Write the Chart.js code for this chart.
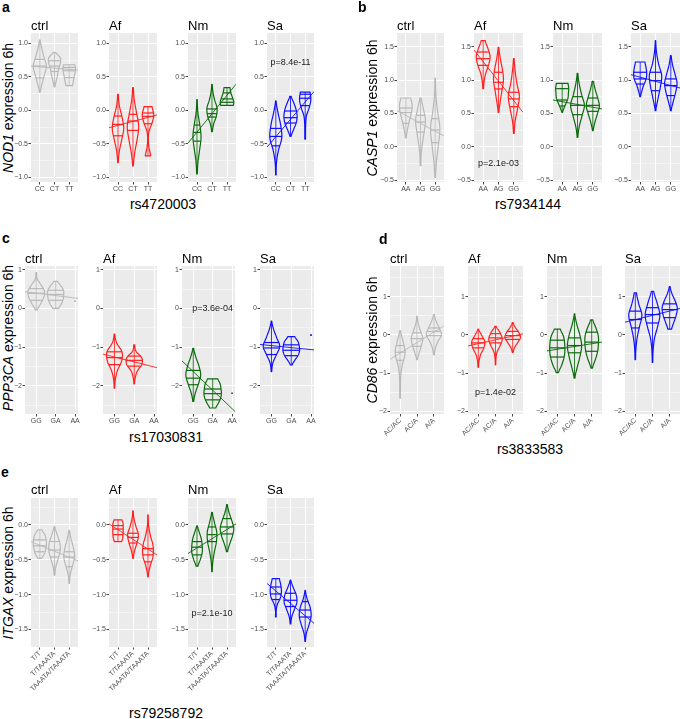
<!DOCTYPE html>
<html>
<head>
<meta charset="utf-8">
<script src="https://cdn.jsdelivr.net/npm/chart.js@4.4.1/dist/chart.umd.min.js"></script>
<style>
  body { margin: 0; width: 680px; height: 719px; position: relative; overflow: hidden; background: #fff;
         font-family: "Liberation Sans", Arial, Helvetica, sans-serif; }
  canvas { position: absolute; }
  .txt { position: absolute; white-space: nowrap; line-height: 1; color: #000; }
</style>
</head>
<body>
<script>
// ── DATA ─────────────────────────────────────
const groups = ['ctrl', 'Af', 'Nm', 'Sa'];
const groupColors = ['#b8b8b8', '#ff1f1f', '#0a6a0a', '#0f0fff'];

// violin = [top, bottom, [q75, q50, q25], half-width profile top -> bottom (1 = widest)]
const genoA = ['CC', 'CT', 'TT'];
const violinsA = [
  [[1.05, 0.27, [0.76, 0.66, 0.485], [0.05, 0.3, 0.65, 1.0, 0.7, 0.35, 0.05]],
   [0.865, 0.35, [0.74, 0.66, 0.58], [0.2, 0.9, 0.85, 0.6, 0.45, 0.25, 0.05]],
   [0.68, 0.37, [0.64, 0.59, 0.49], [0.85, 0.95, 0.9, 0.8, 0.7, 0.6, 0.5]]],
  [[0.24, -0.78, [-0.085, -0.21, -0.38], [0.05, 0.2, 0.6, 0.85, 0.55, 0.2, 0.05]],
   [0.34, -0.83, [-0.06, -0.16, -0.3], [0.05, 0.2, 0.55, 0.85, 0.6, 0.25, 0.05]],
   [0.055, -0.68, [-0.04, -0.09, -0.2], [0.6, 0.85, 0.6, 0.15, 0.05, 0.15, 0.4]]],
  [[0.16, -0.95, [-0.22, -0.33, -0.46], [0.03, 0.12, 0.4, 0.6, 0.4, 0.15, 0.05]],
   [0.386, -0.32, [0.02, -0.05, -0.1], [0.03, 0.15, 0.4, 0.75, 0.65, 0.25, 0.05]],
   [0.34, 0.075, [0.26, 0.17, 0.12], [0.45, 0.5, 0.6, 0.75, 0.9, 1.0, 0.95]]],
  [[0.14, -0.965, [-0.27, -0.39, -0.53], [0.03, 0.35, 0.75, 0.9, 0.4, 0.1, 0.03]],
   [0.21, -0.39, [-0.01, -0.11, -0.19], [0.1, 0.5, 0.85, 1.0, 0.85, 0.45, 0.08]],
   [0.27, -0.43, [0.24, 0.18, 0.07], [0.75, 0.85, 0.6, 0.2, 0.08, 0.05, 0.05]]]
];
const fitA = [[0.66, 0.6], [-0.26, -0.07], [-0.49, 0.39], [-0.55, 0.28]];
const pA = [3, 0.72, 'p=8.4e-11'];
const rangeA = [-1.07, 1.154];

const genoB = ['AA', 'AG', 'GG'];
const violinsB = [
  [[0.73, 0.13, [0.58, 0.51, 0.35], [0.75, 0.95, 0.9, 0.65, 0.4, 0.2, 0.05]],
   [0.73, -0.285, [0.47, 0.37, 0.22], [0.1, 0.45, 0.75, 0.55, 0.3, 0.1, 0.05]],
   [1.03, -0.46, [0.42, 0.25, 0.06], [0.03, 0.1, 0.35, 0.7, 0.5, 0.2, 0.05]]],
  [[1.59, 0.87, [1.42, 1.32, 1.22], [0.3, 0.7, 1.0, 0.8, 0.4, 0.15, 0.05]],
   [1.49, 0.515, [1.116, 0.966, 0.866], [0.05, 0.25, 0.55, 0.72, 0.5, 0.25, 0.05]],
   [1.32, 0.2, [0.816, 0.716, 0.6], [0.05, 0.2, 0.45, 0.8, 0.55, 0.2, 0.05]]],
  [[0.95, 0.515, [0.87, 0.7, 0.61], [0.85, 0.95, 0.9, 0.85, 0.6, 0.3, 0.05]],
   [1.1, 0.14, [0.75, 0.62, 0.48], [0.05, 0.25, 0.6, 1.0, 0.65, 0.25, 0.05]],
   [0.98, 0.24, [0.73, 0.62, 0.53], [0.1, 0.35, 0.7, 0.95, 0.65, 0.3, 0.05]]],
  [[1.27, 0.75, [1.116, 1.016, 0.94], [0.7, 0.85, 0.95, 0.85, 0.5, 0.25, 0.05]],
   [1.59, 0.54, [1.116, 0.99, 0.84], [0.03, 0.15, 0.45, 0.9, 0.7, 0.35, 0.05]],
   [1.366, 0.54, [1.016, 0.916, 0.766], [0.05, 0.25, 0.6, 0.9, 0.7, 0.35, 0.05]]]
];
const fitB = [[0.54, 0.16], [1.45, 0.515], [0.7, 0.566], [1.08, 0.88]];
const pB = [1, -0.26, 'p=2.1e-03'];
const rangeB = [-0.53, 1.705];

const genoC = ['GG', 'GA', 'AA'];
const violinsC = [
  [[0.925, -0.04, [0.51, 0.39, 0.21], [0.03, 0.1, 0.55, 0.95, 0.85, 0.5, 0.1]],
   [0.7, 0.0, [0.47, 0.36, 0.21], [0.2, 0.6, 0.9, 0.92, 0.85, 0.65, 0.35]], null],
  [[-0.66, -2.06, [-1.12, -1.27, -1.45], [0.03, 0.25, 0.85, 0.8, 0.35, 0.1, 0.03]],
   [-0.94, -1.95, [-1.23, -1.34, -1.49], [0.05, 0.2, 0.85, 0.85, 0.35, 0.12, 0.03]], null],
  [[-1.03, -2.4, [-1.6, -1.8, -1.97], [0.05, 0.3, 0.65, 0.85, 0.6, 0.25, 0.05]],
   [-1.82, -2.57, [-2.08, -2.2, -2.36], [0.6, 0.85, 0.95, 1.0, 0.9, 0.65, 0.35]], null],
  [[-0.33, -1.63, [-0.88, -1.02, -1.19], [0.03, 0.25, 0.6, 0.93, 0.55, 0.15, 0.03]],
   [-0.73, -1.46, [-0.94, -1.08, -1.22], [0.4, 0.75, 0.9, 0.93, 0.75, 0.4, 0.1]], null]
];
const fitC = [[0.43, 0.26], [-1.18, -1.53], [-1.355, -2.66], [-0.93, -1.07]];
const pC = [2, 0.0, 'p=3.6e-04'];
const dotsC = [[0, 3, 0.19], [2, 3, -2.19], [3, 3, -0.69]];   // [group, genotype, value]
const rangeC = [-2.725, 1.095];

const genoD = ['AC/AC', 'AC/A', 'A/A'];
const violinsD = [
  [[0.11, -1.66, [-0.28, -0.455, -0.665], [0.05, 0.4, 0.65, 0.3, 0.08, 0.04, 0.02]],
   [0.49, -0.65, [0.05, -0.1, -0.3], [0.03, 0.15, 0.45, 0.75, 0.6, 0.3, 0.05]],
   [0.53, -0.52, [0.18, 0.09, -0.02], [0.05, 0.3, 0.7, 1.0, 0.55, 0.2, 0.05]]],
  [[0.15, -0.85, [-0.1, -0.21, -0.34], [0.05, 0.45, 0.85, 0.7, 0.3, 0.1, 0.03]],
   [0.22, -0.785, [0.03, -0.08, -0.21], [0.1, 0.6, 0.87, 0.6, 0.2, 0.06, 0.03]],
   [0.32, -0.46, [0.09, -0.02, -0.12], [0.05, 0.35, 0.8, 1.0, 0.65, 0.25, 0.05]]],
  [[0.15, -0.99, [-0.14, -0.34, -0.58], [0.4, 0.8, 0.95, 0.98, 0.85, 0.55, 0.15]],
   [0.55, -1.13, [-0.08, -0.28, -0.47], [0.03, 0.3, 0.7, 0.92, 0.7, 0.35, 0.05]],
   [0.39, -0.87, [0.07, -0.19, -0.43], [0.15, 0.55, 0.85, 0.87, 0.75, 0.45, 0.1]]],
  [[1.1, -0.65, [0.62, 0.4, 0.18], [0.15, 0.45, 0.85, 0.55, 0.25, 0.08, 0.03]],
   [1.14, -0.72, [0.71, 0.53, 0.31], [0.15, 0.6, 0.95, 0.65, 0.25, 0.08, 0.03]],
   [1.26, 0.15, [0.81, 0.66, 0.45], [0.05, 0.3, 0.7, 0.98, 0.85, 0.55, 0.25]]]
];
const fitD = [[-0.64, 0.235], [-0.29, 0.026], [-0.42, -0.19], [0.33, 0.69]];
const pD = [1, -1.5, 'p=1.4e-02'];
const rangeD = [-2.07, 1.8];

const genoE = ['T/T', 'T/TAAATA', 'TAAATA/TAAATA'];
const violinsE = [
  [[-0.07, -0.48, [-0.215, -0.3, -0.385], [0.3, 0.75, 0.95, 1.0, 0.9, 0.7, 0.3]],
   [-0.024, -0.72, [-0.24, -0.36, -0.46], [0.05, 0.4, 0.8, 0.85, 0.55, 0.2, 0.05]],
   [-0.08, -0.84, [-0.385, -0.46, -0.6], [0.05, 0.3, 0.65, 0.82, 0.5, 0.15, 0.03]]],
  [[0.072, -0.24, [-0.01, -0.06, -0.14], [0.6, 0.75, 0.77, 0.77, 0.75, 0.7, 0.55]],
   [0.2, -0.48, [-0.12, -0.18, -0.26], [0.03, 0.15, 0.45, 0.8, 0.6, 0.25, 0.03]],
   [0.145, -0.745, [-0.34, -0.43, -0.53], [0.02, 0.08, 0.35, 0.75, 0.75, 0.3, 0.03]]],
  [[-0.014, -0.59, [-0.24, -0.32, -0.43], [0.05, 0.35, 0.65, 0.77, 0.77, 0.5, 0.15]],
   [0.18, -0.67, [-0.03, -0.14, -0.24], [0.05, 0.35, 0.7, 0.65, 0.35, 0.12, 0.03]],
   [0.29, -0.385, [0.09, -0.03, -0.13], [0.05, 0.3, 0.7, 1.0, 0.8, 0.4, 0.08]]],
  [[-0.77, -1.32, [-0.89, -0.99, -1.07], [0.55, 0.75, 0.85, 0.7, 0.25, 0.05, 0.05]],
   [-0.79, -1.42, [-0.98, -1.08, -1.17], [0.05, 0.4, 0.85, 0.97, 0.6, 0.2, 0.05]],
   [-0.94, -1.67, [-1.1, -1.22, -1.32], [0.03, 0.3, 0.75, 0.9, 0.6, 0.2, 0.03]]]
];
const fitE = [[-0.24, -0.515], [0.014, -0.43], [-0.41, 0.014], [-0.84, -1.41]];
const pE = [2, -1.27, 'p=2.1e-10'];
const rangeE = [-1.75, 0.385];

// ── LAYOUT ───────────────────────────────────
const rows = [
  { letter: 'a', letterAt: [2, 12], gene: 'NOD1', snp: 'rs4720003', snpAt: [163, 209], yTitleAt: [8, 107.5],
    geno: genoA, violins: violinsA, fit: fitA, p: pA, dots: [], yRange: rangeA, yStep: [0.5, 0.25], dec: 1, rot: 0,
    top: 33, bottom: 182, titleBase: 30, xRange: [0.4, 3.6],
    panels: [[31, 78], [109, 157], [188, 236], [267, 314]] },
  { letter: 'b', letterAt: [358, 12], gene: 'CASP1', snp: 'rs7934144', snpAt: [528, 209], yTitleAt: [372, 107.5],
    geno: genoB, violins: violinsB, fit: fitB, p: pB, dots: [], yRange: rangeB, yStep: [0.5, 0.25], dec: 1, rot: 0,
    top: 33, bottom: 182, titleBase: 30, xRange: [0.4, 3.6],
    panels: [[397, 444], [474, 523], [553, 602], [631, 680]] },
  { letter: 'c', letterAt: [2, 243], gene: 'PPP3CA', snp: 'rs17030831', snpAt: [166, 441.5], yTitleAt: [8, 338],
    geno: genoC, violins: violinsC, fit: fitC, p: pC, dots: dotsC, yRange: rangeC, yStep: [1, 0.5], dec: 0, rot: 0,
    top: 266, bottom: 414, titleBase: 263, xRange: [0.42, 3.15],
    panels: [[25, 79], [103, 157], [182, 236], [260, 315]] },
  { letter: 'd', letterAt: [379, 244], gene: 'CD86', snp: 'rs3833583', snpAt: [530, 454], yTitleAt: [372, 340],
    geno: genoD, violins: violinsD, fit: fitD, p: pD, dots: [], yRange: rangeD, yStep: [1, 0.5], dec: 0, rot: 45,
    top: 266, bottom: 414, titleBase: 263, xRange: [0.4, 3.6],
    panels: [[390, 444], [468, 523], [547, 602], [625, 680]] },
  { letter: 'e', letterAt: [1, 477], gene: 'ITGAX', snp: 'rs79258792', snpAt: [166, 718], yTitleAt: [8, 572.5],
    geno: genoE, violins: violinsE, fit: fitE, p: pE, dots: [], yRange: rangeE, yStep: [0.5, 0.25], dec: 1, rot: 45,
    top: 498, bottom: 647, titleBase: 494.5, xRange: [0.4, 3.6],
    panels: [[31, 78], [109, 157], [188, 236], [267, 314]] }
];

const FONT = '"Liberation Sans", Arial, Helvetica, sans-serif';

// ── HELPERS ──────────────────────────────────
function addText(html, x, base, size, opt = {}) {
  const d = document.createElement('div');
  d.className = 'txt';
  d.innerHTML = html;
  d.style.fontSize = size + 'px';
  d.style.left = x + 'px';
  d.style.top = (base - 0.8465 * size) + 'px';
  if (opt.bold) d.style.fontWeight = 'bold';
  if (opt.center) d.style.transform = 'translateX(-50%)';
  document.body.appendChild(d);
}

function addYTitle(html, cx, cy, size) {
  const d = document.createElement('div');
  d.className = 'txt';
  d.innerHTML = html;
  d.style.fontSize = size + 'px';
  d.style.left = cx + 'px';
  d.style.top = cy + 'px';
  d.style.transform = 'translate(-50%,-50%) rotate(-90deg)';
  document.body.appendChild(d);
}

function fmt(v, dec) {
  const s = Math.abs(v).toFixed(dec);
  return (v < -1e-9 ? '\u2212' : '') + s;
}

function yTicks(row) {
  const [major, minor] = row.yStep;
  const ratio = Math.round(major / minor);
  const out = [];
  for (let k = Math.ceil(row.yRange[0] / minor); k * minor <= row.yRange[1]; k++) {
    out.push({ value: +(k * minor).toFixed(4), maj: k % ratio === 0 });
  }
  return out;
}

// Catmull-Rom through the width profile
function profileAt(w, t) {
  const n = w.length;
  const i = Math.min(Math.floor(t), n - 2);
  const f = t - i;
  const p0 = w[Math.max(i - 1, 0)], p1 = w[i], p2 = w[i + 1], p3 = w[Math.min(i + 2, n - 1)];
  const v = 0.5 * (2 * p1 + (-p0 + p2) * f + (2 * p0 - 5 * p1 + 4 * p2 - p3) * f * f +
                   (-p0 + 3 * p1 - 3 * p2 + p3) * f * f * f);
  return Math.max(v, 0.02);
}

function drawViolin(ctx, xs, ys, cat, v) {
  const [top, bot, q, w] = v;
  const n = w.length;
  const cx = xs.getPixelForValue(cat);
  const unit = Math.abs(xs.getPixelForValue(cat + 1) - cx);
  const half = t => profileAt(w, t) * 0.45 * unit;
  const sub = 8, steps = (n - 1) * sub;
  const pts = [];
  for (let k = 0; k <= steps; k++) {
    const t = k / sub;
    pts.push([half(t), ys.getPixelForValue(top + (bot - top) * t / (n - 1))]);
  }
  ctx.beginPath();
  pts.forEach(([hw, py], i) => i ? ctx.lineTo(cx + hw, py) : ctx.moveTo(cx + hw, py));
  for (let i = pts.length - 1; i >= 0; i--) ctx.lineTo(cx - pts[i][0], pts[i][1]);
  ctx.closePath();
  ctx.stroke();

  q.forEach(qv => {
    const t = (qv - top) / (bot - top) * (n - 1);
    const py = ys.getPixelForValue(qv), hw = half(t);
    ctx.beginPath();
    ctx.moveTo(cx - hw, py);
    ctx.lineTo(cx + hw, py);
    ctx.stroke();
  });

  ctx.save();
  ctx.globalAlpha = 0.85;
  ctx.lineWidth = 1;
  ctx.beginPath();
  ctx.moveTo(cx, ys.getPixelForValue(top));
  ctx.lineTo(cx, ys.getPixelForValue(bot));
  ctx.stroke();
  ctx.restore();
}

const panelBg = {
  id: 'panelBg',
  beforeDraw(chart) {
    const { ctx, chartArea: a } = chart;
    ctx.save();
    ctx.fillStyle = '#ebebeb';
    ctx.fillRect(a.left, a.top, a.width, a.height);
    ctx.restore();
  }
};

function violinPlugin(row, gi) {
  return {
    id: 'violin',
    beforeDatasetsDraw(chart) {
      const { ctx, chartArea: a, scales } = chart;
      ctx.save();
      ctx.beginPath();
      ctx.rect(a.left, a.top, a.width, a.height);
      ctx.clip();
      ctx.strokeStyle = groupColors[gi];
      ctx.lineWidth = 1.2;
      ctx.lineJoin = 'round';
      row.violins[gi].forEach((v, i) => { if (v) drawViolin(ctx, scales.x, scales.y, i + 1, v); });
      ctx.restore();
    },
    afterDatasetsDraw(chart) {
      if (row.p[0] !== gi) return;
      const { ctx, scales } = chart;
      ctx.save();
      ctx.font = '9px ' + FONT;
      ctx.fillStyle = '#1a1a1a';
      ctx.textAlign = 'center';
      ctx.textBaseline = 'middle';
      ctx.fillText(row.p[2], scales.x.getPixelForValue(2), scales.y.getPixelForValue(row.p[1]));
      ctx.restore();
    }
  };
}

// ── PANELS ───────────────────────────────────
function makePanel(row, gi) {
  const [x0, x1] = row.panels[gi];
  const YW = 30, PT = 4, PR = 3, XH = row.rot ? 58 : 22;
  const w = YW + (x1 - x0) + PR, h = PT + (row.bottom - row.top) + XH;
  const cv = document.createElement('canvas');
  cv.width = w; cv.height = h;
  cv.style.left = (x0 - YW) + 'px';
  cv.style.top = (row.top - PT) + 'px';
  cv.style.width = w + 'px';
  cv.style.height = h + 'px';
  document.body.appendChild(cv);

  const col = groupColors[gi];
  const datasets = [{
    data: [{ x: row.xRange[0], y: row.fit[gi][0] }, { x: row.xRange[1], y: row.fit[gi][1] }],
    borderColor: col, borderWidth: 0.9, pointRadius: 0, fill: false
  }];
  const dots = row.dots.filter(d => d[0] === gi).map(d => ({ x: d[1], y: d[2] }));
  if (dots.length) {
    datasets.push({ data: dots, showLine: false, pointRadius: 1.2, pointStyle: 'rect',
                    backgroundColor: col, borderWidth: 0 });
  }

  new Chart(cv, {
    type: 'line',
    data: { datasets },
    options: {
      responsive: false, animation: false, devicePixelRatio: 1,
      layout: { padding: { left: 0, top: PT, right: PR, bottom: 0 } },
      plugins: { legend: { display: false }, tooltip: { enabled: false } },
      scales: {
        x: {
          type: 'linear', min: row.xRange[0], max: row.xRange[1],
          border: { display: false },
          afterBuildTicks: s => { s.ticks = row.geno.map((_, i) => ({ value: i + 1 })); },
          afterFit: s => { s.height = XH; s.paddingLeft = 0; s.paddingRight = 0; },
          grid: { color: '#ffffff', lineWidth: 1, tickLength: 2.5, tickColor: '#444' },
          ticks: {
            autoSkip: false, minRotation: row.rot, maxRotation: row.rot, padding: 0,
            color: '#4d4d4d', font: { size: 7, family: FONT },
            callback: v => row.geno[Math.round(v) - 1]
          }
        },
        y: {
          type: 'linear', min: row.yRange[0], max: row.yRange[1],
          border: { display: false },
          afterBuildTicks: s => { s.ticks = yTicks(row); },
          afterFit: s => { s.width = YW; s.paddingTop = 0; s.paddingBottom = 0; },
          grid: {
            color: '#ffffff',
            lineWidth: c => (c.tick && c.tick.maj ? 1 : 0.5),
            tickLength: 2.5,
            tickColor: c => (c.tick && c.tick.maj ? '#444' : 'rgba(0,0,0,0)')
          },
          ticks: {
            autoSkip: false, padding: 0.5, color: '#4d4d4d', font: { size: 7, family: FONT },
            callback: (v, i, t) => (t[i] && t[i].maj ? fmt(v, row.dec) : '')
          }
        }
      }
    },
    plugins: [panelBg, violinPlugin(row, gi)]
  });

  addText(groups[gi], x0, row.titleBase, 13);
}

rows.forEach(row => {
  addText(row.letter, row.letterAt[0], row.letterAt[1], 14, { bold: true });
  addText(row.snp, row.snpAt[0], row.snpAt[1], 14, { center: true });
  addYTitle('<i>' + row.gene + '</i> expression 6h', row.yTitleAt[0], row.yTitleAt[1], 14);
  groups.forEach((_, gi) => makePanel(row, gi));
});
</script>
</body>
</html>
